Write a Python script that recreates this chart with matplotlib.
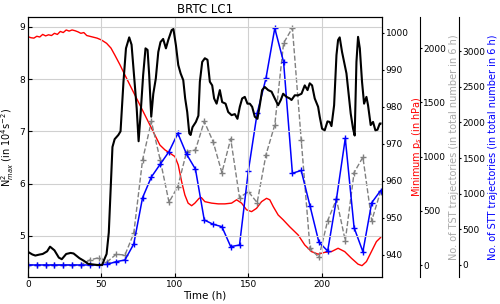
import matplotlib
matplotlib.use('Agg')
import matplotlib.pyplot as plt

# N2max (black), hourly-ish readings
t_n2 = [0, 3, 5, 8, 10, 13, 15, 18, 21, 23, 26, 29, 31, 35, 38, 41, 44, 47, 50.5, 52, 53.5, 55, 56.5,
        57.5, 59, 61.5, 63, 65, 66.7, 68.9, 70.5, 72, 74, 75.3, 76.6, 78.4, 80, 81.4, 82.5, 83.9, 85.3,
        87, 88.7, 90.2, 92, 93.9, 95.5, 97.8, 99, 100.7, 102.3, 103.9, 105.7, 107, 108.4, 109.8, 110.7,
        112, 114.3, 116, 117, 118.6, 120.4, 122.2, 123.8, 125.4, 126.7, 128.4, 130.6, 132.2, 134.5,
        136.3, 138.6, 140.8, 142.6, 144.2, 145.8, 147.6, 149.4, 151, 152.6, 154.4, 156.2, 157.8, 159.4,
        161.2, 163.5, 165.8, 168, 170.3, 172.1, 173.7, 176, 178.2, 179.4, 181.6, 183.9, 186.2, 188.4,
        190.3, 191.8, 193.4, 195.2, 197.5, 198.6, 200.2, 202, 203.9, 205.4, 206.6, 208.4, 210, 211.1,
        212.2, 213.8, 215.6, 216.8, 218.4, 219.7, 221.3, 222.4, 223.6, 224.7, 225.9, 227.4, 228.8,
        230.4, 231.5, 233.3, 234.9, 236.5, 237.9, 239.5, 240]
n2 = [4.69, 4.64, 4.62, 4.64, 4.65, 4.70, 4.79, 4.72, 4.58, 4.55, 4.65, 4.67, 4.66, 4.57, 4.52, 4.46,
      4.45, 4.44, 4.44, 4.55, 4.65, 5.06, 6.03, 6.70, 6.85, 6.93, 7.00, 7.95, 8.59, 8.80, 8.66, 8.14,
      7.44, 6.81, 7.31, 8.08, 8.59, 8.56, 8.08, 7.28, 7.72, 8.01, 8.52, 8.71, 8.77, 8.59, 8.75, 8.94,
      8.96, 8.65, 8.27, 8.11, 7.98, 7.63, 7.37, 6.96, 6.93, 7.08, 7.18, 7.30, 7.95, 8.33, 8.40, 8.37,
      7.95, 7.88, 7.63, 7.53, 7.79, 7.56, 7.53, 7.37, 7.31, 7.33, 7.24, 7.47, 7.63, 7.66, 7.53, 7.53,
      7.47, 7.28, 7.24, 7.50, 7.79, 7.85, 7.79, 7.76, 7.63, 7.50, 7.60, 7.72, 7.66, 7.63, 7.60, 7.69,
      7.69, 7.72, 7.88, 7.79, 7.92, 7.88, 7.63, 7.47, 7.28, 7.05, 7.02, 7.19, 7.18, 7.10, 7.50, 8.46,
      8.75, 8.80, 8.52, 8.27, 8.11, 7.69, 7.34, 7.05, 6.92, 8.33, 8.81, 8.59, 7.95, 7.53, 7.66, 7.50,
      7.12, 7.18, 7.02, 7.03, 7.15, 7.15]

# minimum surface pressure (red)
t_ps = [0, 2, 4, 6, 8, 10, 12, 14, 16, 18, 20, 22, 24, 26, 28, 30, 32, 34, 36, 38, 40, 43, 47, 50,
        53.5, 56.5, 59, 62.6, 66, 69.4, 72.8, 76.2, 79.6, 83, 86.4, 89.8, 93.2, 96.6, 100, 102.3, 104.6,
        106.8, 109, 111.4, 113.6, 116.5, 118, 120.4, 125, 129.5, 134, 138.6, 142, 145.4, 148.8, 152.2,
        155.6, 159, 162.4, 164.6, 166.9, 170.3, 173.7, 178.2, 183.9, 188.4, 193, 197.5, 202, 206.6,
        211.1, 215.6, 220.2, 224.7, 227.4, 230.4, 233.8, 237.2, 240]
ps = [999.0, 998.7, 998.6, 999.1, 998.9, 999.6, 999.2, 999.5, 999.3, 999.9, 999.6, 1000.4, 1000.1,
      1000.8, 1000.5, 1000.8, 1000.6, 1000.3, 999.9, 1000.1, 999.3, 999.0, 998.6, 998.1, 997.2, 995.9,
      994.1, 991.4, 988.6, 985.9, 983.2, 980.5, 977.8, 975.1, 972.4, 969.7, 968.4, 967.5, 966.6, 964.3,
      959.8, 956.2, 954.0, 953.3, 954.0, 955.3, 955.5, 954.4, 954.0, 953.8, 953.8, 954.0, 954.9, 954.0,
      952.2, 951.7, 952.6, 954.4, 955.3, 954.9, 953.1, 950.8, 949.5, 947.6, 945.4, 942.7, 940.9,
      940.2, 940.7, 940.9, 941.8, 940.9, 939.1, 937.5, 937.1, 938.2, 940.9, 943.6, 944.7]

# trajectory counts every 6 h
t_traj = list(range(0, 241, 6))
tst = [0, 0, 0, 0, 0, 0, 0, 46, 67, 30, 99, 92, 293, 969, 1323, 969, 579, 723, 1046, 1061, 1323,
       1138, 852, 1163, 621, 677, 575, 1015, 1292, 2046, 2185, 1154, 154, 71, 409, 606, 224, 852,
       994, 409, 677]
stt = [0, 0, 0, 0, 0, 0, 0, 0, 0, 10, 46, 70, 294, 944, 1234, 1413, 1589, 1846, 1552, 1343, 631,
       571, 537, 257, 280, 1318, 2127, 2618, 3319, 2846, 1286, 1325, 827, 322, 196, 925, 1776, 523,
       186, 873, 1042]

plt.rcParams['font.family'] = 'DejaVu Sans'
plt.rcParams['font.size'] = 7

fig = plt.figure(figsize=(5, 3.04), dpi=100)
ax = fig.add_axes([0.056, 0.089, 0.708, 0.855])
ax.plot(t_n2, n2, color='black', lw=1.5, zorder=5)
ax.set_xlim(0, 241)
ax.set_ylim(4.21, 9.19)
ax.set_xticks([0, 50, 100, 150, 200])
ax.set_yticks([5, 6, 7, 8, 9])
ax.grid(True, color='#d0d0d0', lw=0.8)
ax.set_axisbelow(True)
ax.set_xlabel('Time (h)', fontsize=7.5, labelpad=1)
ax.set_ylabel(r'N$^2_{max}$ (in 10$^4$s$^{-2}$)', fontsize=7)
ax.yaxis.set_label_coords(-0.034, 0.5)
ax.set_title('BRTC LC1', fontsize=8.5, pad=3)
ax.tick_params(direction='in', length=3, pad=2, labelsize=6.5)
ax.patch.set_visible(False)

par1 = ax.twinx()
par1.plot(t_ps, ps, color='red', lw=1)
par1.set_ylim(934.05, 1004.3)
par1.set_yticks([940, 950, 960, 970, 980, 990, 1000])
par1.set_ylabel(r'Minimum p$_s$ (in hPa)', color='red', fontsize=7)
par1.yaxis.set_label_coords(1.078, 0.5)
par1.tick_params(direction='out', length=1.5, pad=1, labelsize=6.5)

par2 = ax.twinx()
par2.spines['right'].set_position(('axes', 1.107))
par2.plot(t_traj, tst, color='grey', ls='--', lw=1, marker='+', ms=4)
par2.set_ylim(-110, 2286)
par2.set_yticks([0, 500, 1000, 1500, 2000])
par2.set_ylabel('No. of TST trajectories (in total number in 6 h)', color='darkgrey', fontsize=7)
par2.yaxis.set_label_coords(1.19, 0.5)
par2.tick_params(direction='out', length=1.5, pad=1, labelsize=6.5)

par3 = ax.twinx()
par3.spines['right'].set_position(('axes', 1.218))
par3.plot(t_traj, stt, color='blue', lw=1.1, marker='+', ms=4)
par3.set_ylim(-168, 3477)
par3.set_yticks([0, 500, 1000, 1500, 2000, 2500, 3000])
par3.set_ylabel('No. of STT trajectories (in total number in 6 h)', color='blue', fontsize=7)
par3.yaxis.set_label_coords(1.30, 0.5)
par3.tick_params(direction='out', length=1.5, pad=1, labelsize=6.5)

for p in (par2, par3):
    for s in ('top', 'bottom', 'left'):
        p.spines[s].set_visible(False)

# draw order: black on top of the twins
ax.set_zorder(par3.get_zorder() + 1)

fig.savefig('out.png', dpi=100)
